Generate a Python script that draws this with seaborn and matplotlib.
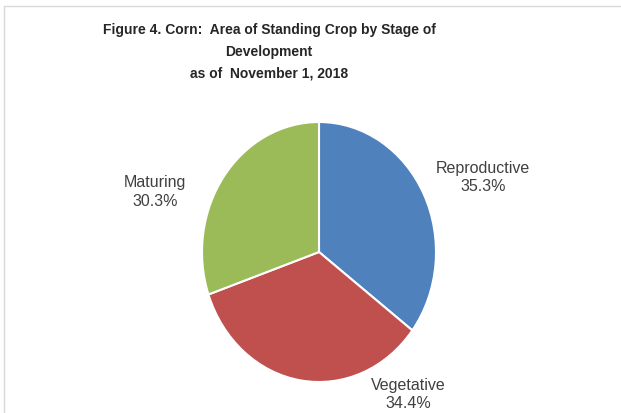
#! /usr/bin/env python3
# -*- coding: utf-8 -*-

import numpy as np
import seaborn as sns
import matplotlib
matplotlib.use('Agg')
import matplotlib.pyplot as plt
from matplotlib.lines import Line2D

#######DATA#######
stages = ['Reproductive', 'Vegetative', 'Maturing']
shares = [35.3, 34.4, 30.3]
colors = ['#4F81BD', '#C0504D', '#9BBB59']
title_lines = ['Figure 4. Corn:  Area of Standing Crop by Stage of',
               'Development',
               'as of  November 1, 2018']

#Label placement (axes data units, pie radius = 1)
label_pos = [(1.40, 0.58), (0.76, -1.09), (-1.40, 0.47)]

###########MAIN###########
sns.set_theme(style='white')
plt.rcParams['font.family'] = ['Liberation Sans', 'DejaVu Sans']

W, H = 621, 414
fig = plt.figure(figsize=(W/100, H/100), dpi=100)

#Pie is drawn slightly taller than wide, as in the original
cx, cy, rx, ry = 319, 253, 117, 130
ax = fig.add_axes([(cx-rx)/W, (H-cy-ry)/H, 2*rx/W, 2*ry/H])
wedges, _ = ax.pie(shares, colors=colors, startangle=90, counterclock=False,
                   wedgeprops=dict(edgecolor='white', linewidth=1.5))
ax.set_aspect('auto')
ax.set_xlim(-1, 1)
ax.set_ylim(-1, 1)
ax.axis('off')

for name, val, (x, y) in zip(stages, shares, label_pos):
    ax.text(x, y, f'{name}\n{val:.1f}%', ha='center', va='center',
            fontsize=11.5, color='#404040', linespacing=1.3, clip_on=False)

#Title
fig.text(269/W, 1-52/H, '\n'.join(title_lines), ha='center', va='center',
         fontsize=10, fontweight='bold', color='#262626', linespacing=1.72)

#Chart frame (left and top edges visible)
fig.add_artist(Line2D([4/W, 4/W], [0, 1-7/H], transform=fig.transFigure,
                      color='#D9D9D9', linewidth=1))
fig.add_artist(Line2D([4/W, 1], [1-7/H, 1-7/H], transform=fig.transFigure,
                      color='#D9D9D9', linewidth=1))

plt.savefig('out.png', dpi=100)
plt.close()
